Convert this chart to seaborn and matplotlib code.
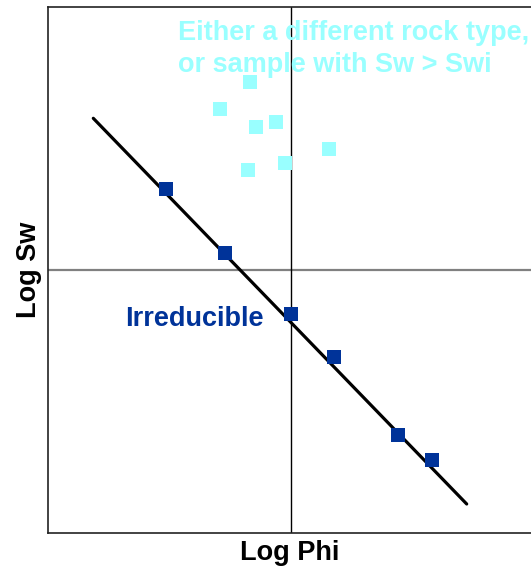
import matplotlib
matplotlib.use("Agg")
import matplotlib.pyplot as plt
import seaborn as sns
import pandas as pd

# Log porosity / log water saturation pairs (arbitrary log units, centred on the crosshair)
irr_log_phi = [-1.247, -0.657, 0.003, 0.430, 1.070, 1.410]
irr_log_sw = [0.805, 0.162, -0.445, -0.872, -1.655, -1.902]

other_log_phi = [-0.407, -0.707, -0.342, -0.147, 0.380, -0.424, -0.060]
other_log_sw = [1.875, 1.608, 1.425, 1.475, 1.210, 0.998, 1.068]

# Irreducible trend line end points
trend_log_phi = [-1.974, 1.760]
trend_log_sw = [1.512, -2.345]

DARK_BLUE = "#003399"
CYAN = "#99FFFF"

sns.set_theme(style="white")
plt.rcParams["font.family"] = ["Liberation Sans", "DejaVu Sans"]

fig = plt.figure(figsize=(5.31, 5.69), dpi=100)
ax = fig.add_axes([48 / 531, 36 / 569, 483 / 531, 526 / 569])

irr = pd.DataFrame({"phi": irr_log_phi, "sw": irr_log_sw})
other = pd.DataFrame({"phi": other_log_phi, "sw": other_log_sw})
trend = pd.DataFrame({"phi": trend_log_phi, "sw": trend_log_sw})

# Crosshair
ax.axhline(0, color="#808080", lw=1.6, zorder=1)
ax.axvline(0, color="black", lw=1.0, zorder=1)

sns.lineplot(data=trend, x="phi", y="sw", color="black", lw=2.3, ax=ax, zorder=2)
sns.scatterplot(data=other, x="phi", y="sw", marker="s", s=100, color=CYAN,
                linewidth=0, ax=ax, zorder=3)
sns.scatterplot(data=irr, x="phi", y="sw", marker="s", s=100, color=DARK_BLUE,
                linewidth=0, ax=ax, zorder=3)

ax.set_xlim(-2.427, 2.403)
ax.set_ylim(-2.635, 2.625)
ax.set_xticks([])
ax.set_yticks([])

for side in ["left", "bottom", "top"]:
    ax.spines[side].set_color("#222222")
    ax.spines[side].set_linewidth(1.2)
ax.spines["right"].set_visible(False)

FS = 19.5
ax.text(-1.127, 2.30, "Either a different rock type,", color=CYAN,
        fontsize=FS, fontweight="bold", va="baseline", ha="left")
ax.text(-1.127, 1.975, "or sample with Sw > Swi", color=CYAN,
        fontsize=FS, fontweight="bold", va="baseline", ha="left")
ax.text(-1.657, -0.565, "Irreducible", color=DARK_BLUE,
        fontsize=FS, fontweight="bold", va="baseline", ha="left")

ax.set_xlabel("Log Phi", fontsize=FS, fontweight="bold", color="black", labelpad=5)
ax.set_ylabel("Log Sw", fontsize=FS, fontweight="bold", color="black", labelpad=4)

fig.savefig("out.png", dpi=100)
